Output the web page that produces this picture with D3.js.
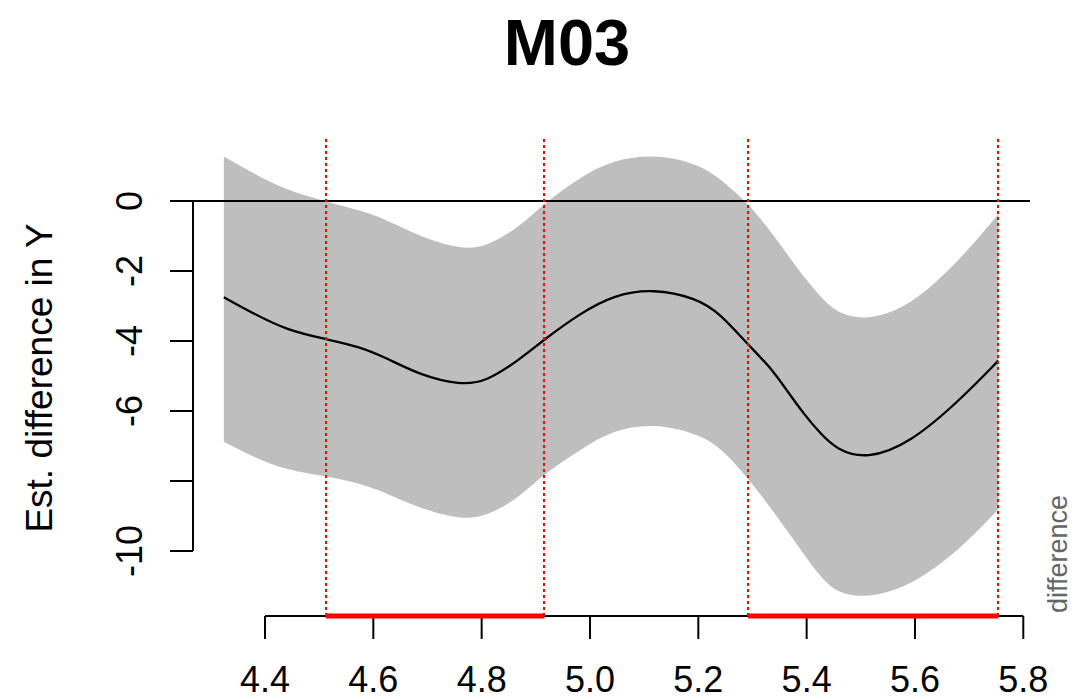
<!DOCTYPE html>
<html>
<head>
<meta charset="utf-8">
<script src="https://cdn.jsdelivr.net/npm/d3@7"></script>
<style>
  body { margin: 0; background: #fff; }
  text { font-family: "Liberation Sans", Arial, Helvetica, sans-serif; }
</style>
</head>
<body>
<div class="chart"></div>
<script>
// data
var title = "M03";
var xs    = [4.324, 4.378, 4.440, 4.513, 4.575, 4.625, 4.686, 4.760, 4.809, 4.871, 4.916, 4.982, 5.043, 5.117, 5.197, 5.240, 5.292, 5.332, 5.363, 5.394, 5.425, 5.456, 5.511, 5.591, 5.683, 5.754];
var fit   = [-2.75, -3.21, -3.69, -3.95, -4.16, -4.49, -4.97, -5.26, -5.16, -4.52, -3.95, -3.21, -2.69, -2.50, -2.78, -3.21, -4.11, -4.73, -5.40, -6.07, -6.64, -7.11, -7.38, -6.92, -5.69, -4.56];
var upper = [1.27, 0.79, 0.31, -0.02, -0.26, -0.54, -1.02, -1.38, -1.31, -0.73, -0.07, 0.69, 1.17, 1.34, 1.08, 0.65, -0.07, -0.83, -1.50, -2.16, -2.73, -3.21, -3.42, -3.02, -1.69, -0.37];
var lower = [-6.88, -7.31, -7.69, -7.86, -8.07, -8.35, -8.78, -9.10, -9.02, -8.45, -7.78, -7.11, -6.54, -6.35, -6.64, -7.02, -7.92, -8.73, -9.40, -10.07, -10.73, -11.21, -11.35, -11.02, -9.97, -8.81];
// regions where the difference is significant
var sigStart = [4.512, 5.292];
var sigEnd   = [4.916, 5.754];
var xTicks = [4.4, 4.6, 4.8, 5.0, 5.2, 5.4, 5.6, 5.8];
var yTicks = [0, -2, -4, -6, -8, -10];
var yTickLabels = ["0", "-2", "-4", "-6", "", "-10"];

var svgWidth = 1091;
var svgHeight = 699;

var svg = d3.select(".chart")
  .append("svg")
  .attr("width", svgWidth)
  .attr("height", svgHeight);

var x = d3.scaleLinear().domain([4.4, 5.8]).range([265, 1023.3]);
var y = d3.scaleLinear().domain([0, -10]).range([201, 551]);

var yAxisX = 193;
var xAxisY = 616;

var pts = xs.map(function(d, i) {
  return { x: d, fit: fit[i], lo: lower[i], hi: upper[i] };
});

// confidence band
var band = d3.area()
  .x(d => x(d.x))
  .y0(d => y(d.lo))
  .y1(d => y(d.hi))
  .curve(d3.curveBasis);

svg.append("path")
  .datum(pts)
  .attr("d", band)
  .attr("fill", "#bebebe");

// zero line
svg.append("line")
  .attr("x1", 170).attr("x2", 1030)
  .attr("y1", y(0)).attr("y2", y(0))
  .attr("stroke", "black")
  .attr("stroke-width", 2);

// estimated difference
var line = d3.line()
  .x(d => x(d.x))
  .y(d => y(d.fit))
  .curve(d3.curveBasis);

svg.append("path")
  .datum(pts)
  .attr("d", line)
  .attr("fill", "none")
  .attr("stroke", "black")
  .attr("stroke-width", 2.3);

// y axis
var gy = svg.append("g");
gy.append("line")
  .attr("x1", yAxisX).attr("x2", yAxisX)
  .attr("y1", y(0)).attr("y2", y(-10))
  .attr("stroke", "black").attr("stroke-width", 2);
gy.selectAll(".ytick")
  .data(yTicks)
  .enter()
  .append("line")
  .attr("x1", 170).attr("x2", yAxisX)
  .attr("y1", d => y(d)).attr("y2", d => y(d))
  .attr("stroke", "black").attr("stroke-width", 2);
gy.selectAll(".ylab")
  .data(yTicks)
  .enter()
  .append("text")
  .attr("transform", d => `translate(142, ${y(d)}) rotate(-90)`)
  .attr("text-anchor", "middle")
  .style("font-size", "36px")
  .text((d, i) => yTickLabels[i]);

// x axis
var gx = svg.append("g");
gx.append("line")
  .attr("x1", x(4.4)).attr("x2", x(5.8))
  .attr("y1", xAxisY).attr("y2", xAxisY)
  .attr("stroke", "black").attr("stroke-width", 2);
gx.selectAll(".xtick")
  .data(xTicks)
  .enter()
  .append("line")
  .attr("x1", d => x(d)).attr("x2", d => x(d))
  .attr("y1", xAxisY).attr("y2", 639)
  .attr("stroke", "black").attr("stroke-width", 2);
gx.selectAll(".xlab")
  .data(xTicks)
  .enter()
  .append("text")
  .attr("x", d => x(d))
  .attr("y", 692)
  .attr("text-anchor", "middle")
  .style("font-size", "36px")
  .text(d => d.toFixed(1));

// significant regions
var sig = sigStart.map((d, i) => ({ s: d, e: sigEnd[i] }));
var bounds = sigStart.concat(sigEnd);

svg.selectAll(".vline")
  .data(bounds)
  .enter()
  .append("line")
  .attr("x1", d => Math.round(x(d))).attr("x2", d => Math.round(x(d)))
  .attr("y1", 139).attr("y2", xAxisY)
  .attr("stroke", "red")
  .attr("stroke-width", 2)
  .attr("stroke-dasharray", "3,3");

svg.selectAll(".sigbar")
  .data(sig)
  .enter()
  .append("line")
  .attr("x1", d => x(d.s)).attr("x2", d => x(d.e))
  .attr("y1", xAxisY).attr("y2", xAxisY)
  .attr("stroke", "red")
  .attr("stroke-width", 5);

// titles
svg.append("text")
  .attr("x", 567)
  .attr("y", 65)
  .attr("text-anchor", "middle")
  .style("font-size", "65px")
  .style("font-weight", "bold")
  .text(title);

svg.append("text")
  .attr("transform", "translate(52, 378) rotate(-90)")
  .attr("text-anchor", "middle")
  .style("font-size", "37px")
  .text("Est. difference in Y");

svg.append("text")
  .attr("transform", "translate(1067, 613) rotate(-90)")
  .attr("text-anchor", "start")
  .style("font-size", "27px")
  .style("fill", "#666")
  .text("difference");
</script>
</body>
</html>
